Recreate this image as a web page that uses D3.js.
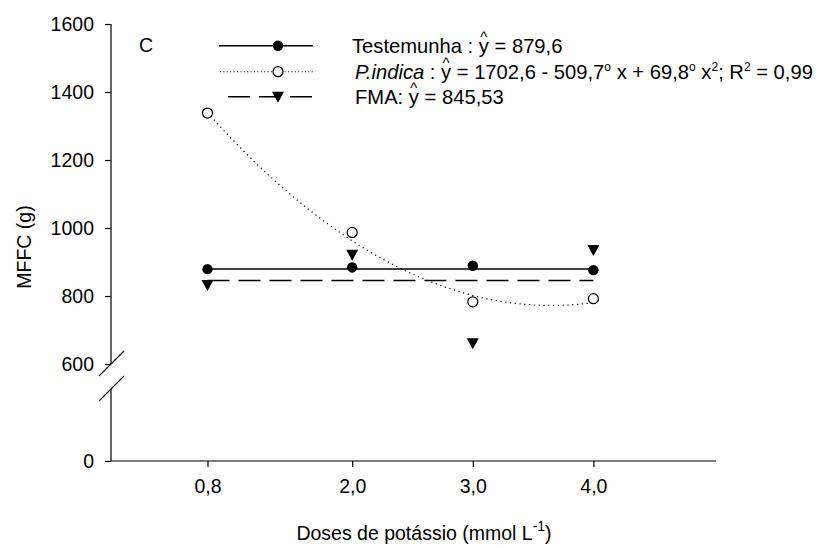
<!DOCTYPE html>
<html>
<head>
<meta charset="utf-8">
<script src="https://cdn.jsdelivr.net/npm/d3@7"></script>
<style>
  html, body { margin: 0; padding: 0; background: #fff; }
  svg { display: block; font-family: "Liberation Sans", Arial, Helvetica, sans-serif; }
</style>
</head>
<body>
<svg id="chart" width="836" height="548"></svg>
<script>
// ---- data ----
const doses = [0.8, 2.0, 3.0, 4.0];
const xTickLabels = ["0,8", "2,0", "3,0", "4,0"];
const testemunha = [879, 884, 889, 876];
const pIndica = [1338, 987, 783, 792];
const fma = [832, 921, 661, 935];
const testemunhaMean = 879.6;
const fmaMean = 845.53;
const pIndicaCoef = [1702.6, -509.7, 69.8];
const yTicksUpper = [600, 800, 1000, 1200, 1400, 1600];
const yTicksLower = [0];

const svg = d3.select("#chart");
const FS = 19.5;
const LFS = 20.2;

// scales
const x = d3.scaleLinear().domain([0, 5]).range([111, 714]);
const yUp = d3.scaleLinear().domain([600, 1600]).range([364, 24]);
const yLow = d3.scaleLinear().domain([0, 200]).range([461, 393]);

// ---- axes ----
const gx = svg.append("g").attr("transform", "translate(0,461)")
  .call(d3.axisBottom(x).tickValues(doses).tickFormat((d, i) => xTickLabels[i]).tickSize(6).tickPadding(12));
gx.select(".domain").attr("d", `M${x(0)},0H716`);

const gyU = svg.append("g").attr("transform", "translate(111,0)")
  .call(d3.axisLeft(yUp).tickValues(yTicksUpper).tickFormat(d3.format("d")).tickSize(6).tickPadding(11));
gyU.select(".domain").attr("d", `M0,${yUp(1600)}V${yUp(600)}`);
const gyL = svg.append("g").attr("transform", "translate(111,0)")
  .call(d3.axisLeft(yLow).tickValues(yTicksLower).tickFormat(d3.format("d")).tickSize(6).tickPadding(11));
gyL.select(".domain").attr("d", `M0,389V${yLow(0)}`);

svg.selectAll(".tick text").attr("font-size", FS).attr("fill", "#000").attr("font-family", "Liberation Sans, Arial, sans-serif");
svg.selectAll(".tick line, .domain").attr("stroke", "#000").attr("stroke-width", 1.2);

// axis break marks
svg.append("line").attr("x1", 99).attr("y1", 376).attr("x2", 124).attr("y2", 351).attr("stroke", "#000").attr("stroke-width", 1.1);
svg.append("line").attr("x1", 99).attr("y1", 401).attr("x2", 124).attr("y2", 376).attr("stroke", "#000").attr("stroke-width", 1.1);

// axis titles
const xt = svg.append("text").attr("x", 424).attr("y", 540).attr("text-anchor", "middle").attr("font-size", FS);
xt.append("tspan").text("Doses de potássio (mmol L");
xt.append("tspan").attr("dy", -9).attr("font-size", 14).text("-1");
xt.append("tspan").attr("dy", 9).text(")");

svg.append("text").attr("transform", "translate(31,247) rotate(-90)").attr("text-anchor", "middle")
  .attr("font-size", FS).text("MFFC (g)");

svg.append("text").attr("x", 139).attr("y", 52).attr("font-size", FS).text("C");

// ---- marks ----
// Testemunha fitted (mean) line
svg.append("line").attr("x1", x(doses[0])).attr("x2", x(doses[3]))
  .attr("y1", yUp(testemunhaMean)).attr("y2", yUp(testemunhaMean))
  .attr("stroke", "#000").attr("stroke-width", 1.5);
// FMA fitted (mean) line
svg.append("line").attr("x1", x(doses[0])).attr("x2", x(doses[3]))
  .attr("y1", yUp(fmaMean)).attr("y2", yUp(fmaMean))
  .attr("stroke", "#000").attr("stroke-width", 1.5).attr("stroke-dasharray", "22,9");
// P.indica quadratic regression curve (from its printed coefficients)
const xs = d3.range(0, 161).map(i => doses[0] + (doses[3] - doses[0]) * i / 160);
svg.append("path")
  .attr("d", d3.line().x(d => x(d)).y(d => yUp(pIndicaCoef[0] + pIndicaCoef[1] * d + pIndicaCoef[2] * d * d))(xs))
  .attr("fill", "none").attr("stroke", "#000").attr("stroke-width", 1.2)
  .attr("stroke-dasharray", "1.2,3.6");

const tri = (cx, cy) => `M${cx - 6},${cy - 5}L${cx + 6},${cy - 5}L${cx},${cy + 6}Z`;

svg.append("g").selectAll("circle").data(doses).join("circle")
  .attr("cx", d => x(d)).attr("cy", (d, i) => yUp(testemunha[i])).attr("r", 5.2).attr("fill", "#000");
svg.append("g").selectAll("circle").data(doses).join("circle")
  .attr("cx", d => x(d)).attr("cy", (d, i) => yUp(pIndica[i])).attr("r", 5).attr("fill", "#fff")
  .attr("stroke", "#000").attr("stroke-width", 1.2);
svg.append("g").selectAll("path").data(doses).join("path")
  .attr("d", (d, i) => tri(x(d), yUp(fma[i]))).attr("fill", "#000");

// ---- legend ----
const lg = svg.append("g");
const rows = [45.7, 71.7, 96.7];
lg.append("line").attr("x1", 219).attr("x2", 313).attr("y1", rows[0]).attr("y2", rows[0]).attr("stroke", "#000").attr("stroke-width", 1.5);
lg.append("circle").attr("cx", 278).attr("cy", rows[0]).attr("r", 5.2).attr("fill", "#000");
lg.append("line").attr("x1", 220).attr("x2", 313).attr("y1", rows[1]).attr("y2", rows[1]).attr("stroke", "#000").attr("stroke-width", 1.1).attr("stroke-dasharray", "1,2.4");
lg.append("circle").attr("cx", 278).attr("cy", rows[1]).attr("r", 5).attr("fill", "#fff").attr("stroke", "#000").attr("stroke-width", 1.2);
lg.append("line").attr("x1", 228).attr("x2", 313).attr("y1", rows[2]).attr("y2", rows[2]).attr("stroke", "#000").attr("stroke-width", 1.5).attr("stroke-dasharray", "22,9");
lg.append("path").attr("d", tri(278, rows[2])).attr("fill", "#000");

// y with a hat, kept inside the same text element
function yhat(textSel) {
  textSel.append("tspan").attr("class", "ychar").text("y");
  textSel.append("tspan").attr("class", "hatchar").attr("font-size", 15).text("^");
}
const t1 = lg.append("text").attr("x", 352).attr("y", rows[0] + 7).attr("font-size", LFS);
t1.append("tspan").text("Testemunha : ");
yhat(t1);
t1.append("tspan").attr("class", "after").text(" = 879,6");

const t2 = lg.append("text").attr("x", 355).attr("y", rows[1] + 7).attr("font-size", LFS);
t2.append("tspan").attr("font-style", "italic").text("P.indica");
t2.append("tspan").text(" : ");
yhat(t2);
t2.append("tspan").attr("class", "after").text(" = 1702,6 - 509,7");
t2.append("tspan").attr("dy", -8).attr("font-size", 12).text("o");
t2.append("tspan").attr("dy", 8).text(" x + 69,8");
t2.append("tspan").attr("dy", -8).attr("font-size", 12).text("o");
t2.append("tspan").attr("dy", 8).text(" x");
t2.append("tspan").attr("dy", -8).attr("font-size", 12).text("2");
t2.append("tspan").attr("dy", 8).text("; R");
t2.append("tspan").attr("dy", -8).attr("font-size", 12).text("2");
t2.append("tspan").attr("dy", 8).text(" = 0,99");

const t3 = lg.append("text").attr("x", 355).attr("y", rows[2] + 7).attr("font-size", LFS);
t3.append("tspan").text("FMA: ");
yhat(t3);
t3.append("tspan").attr("class", "after").text(" = 845,53");

// position hats over the y glyphs
lg.selectAll("text").each(function() {
  const txt = d3.select(this);
  const wy = txt.select("tspan.ychar").node().getComputedTextLength();
  const wh = txt.select("tspan.hatchar").node().getComputedTextLength();
  txt.select("tspan.hatchar").attr("dx", -(wy + wh) / 2).attr("dy", -11);
  txt.select("tspan.after").attr("dx", (wy - wh) / 2).attr("dy", 11);
});
</script>
</body>
</html>
